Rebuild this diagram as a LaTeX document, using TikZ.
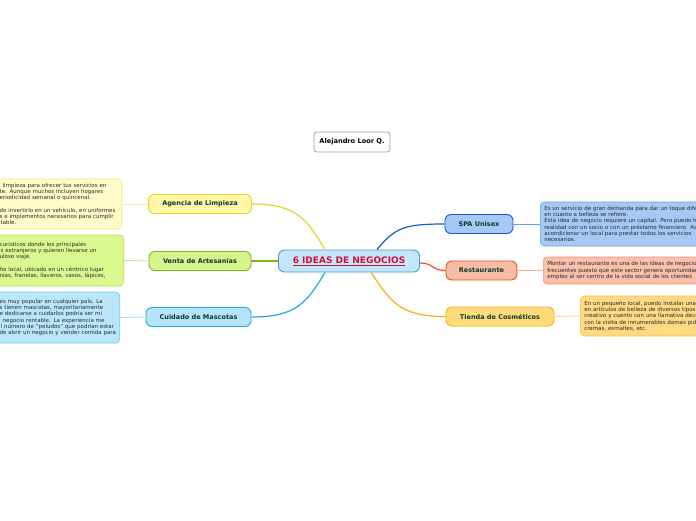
\documentclass[tikz,border=0pt]{standalone}
\usepackage{fontspec}
\setmainfont{DejaVu Sans}
\usepackage{xcolor}
\usepackage{tikz}
\usetikzlibrary{calc}
\definecolor{IdeaText}{HTML}{0F3A2C}
\definecolor{NoteText}{HTML}{2A2A2A}
\definecolor{TitleRed}{HTML}{D0103C}
\definecolor{MainFill}{HTML}{C3E6F8}
\definecolor{MainLine}{HTML}{4A9AD4}
\definecolor{LimpFill}{HTML}{FFF6A6}
\definecolor{LimpLine}{HTML}{EAD12A}
\definecolor{LimpSoft}{HTML}{FFFBC9}
\definecolor{LimpSoftLine}{HTML}{F3E57A}
\definecolor{ArteFill}{HTML}{D5F58A}
\definecolor{ArteLine}{HTML}{7FB21F}
\definecolor{ArteSoft}{HTML}{D9F98F}
\definecolor{ArteSoftLine}{HTML}{B5E05A}
\definecolor{MascFill}{HTML}{B4E4F9}
\definecolor{MascLine}{HTML}{22A8E2}
\definecolor{MascSoft}{HTML}{B9E6FB}
\definecolor{MascSoftLine}{HTML}{6CC8F0}
\definecolor{SpaFill}{HTML}{A6C8F5}
\definecolor{SpaLine}{HTML}{1758D3}
\definecolor{SpaSoft}{HTML}{A5C8F5}
\definecolor{SpaSoftLine}{HTML}{6A9FE8}
\definecolor{RestFill}{HTML}{F8BBA6}
\definecolor{RestLine}{HTML}{F04C1C}
\definecolor{RestSoft}{HTML}{F9C0AC}
\definecolor{RestSoftLine}{HTML}{F29272}
\definecolor{CosmFill}{HTML}{FFDB7C}
\definecolor{CosmLine}{HTML}{F5B112}
\definecolor{CosmSoft}{HTML}{FFDA82}
\definecolor{CosmSoftLine}{HTML}{F5C247}
\begin{document}
\begin{tikzpicture}[x=1pt,y=-1pt,
  idea/.style={draw,line width=0.9pt,rounded corners=6pt,minimum height=19pt,
               font=\fontsize{6.5}{7}\selectfont\bfseries,text=IdeaText},
  nota/.style={draw,line width=0.6pt,rounded corners=4pt,align=left,inner ysep=3pt,inner xsep=4pt,
               font=\fontsize{5.5}{6.3}\selectfont,text=NoteText},
  rama/.style={line width=1.2pt},
  enlace/.style={line width=0.9pt}]
\useasboundingbox (0,0) rectangle (696,520);
\clip (0,0) rectangle (696,520);
\fill[white] (0,0) rectangle (696,520);

\node[draw=black!40,line width=0.7pt,rounded corners=3pt,fill=white,minimum width=76pt,
      minimum height=20pt,font=\fontsize{6.6}{7}\selectfont\bfseries] (author) at (352,142)
{Alejandro Loor Q.};

\node[idea,fill=MainFill,draw=MainLine,minimum width=141pt,minimum height=22pt,
      text=TitleRed,font=\fontsize{9}{10}\selectfont\bfseries] (main) at (349,261)
{\underline{6 IDEAS DE NEGOCIOS}};

% ramas izquierda
\node[idea,fill=LimpFill,draw=LimpLine,minimum width=103pt] (limpieza) at (200,204) {Agencia de Limpieza};
\node[idea,fill=ArteFill,draw=ArteLine,minimum width=102pt] (artesania) at (200,261) {Venta de Artesanías};
\node[idea,fill=MascFill,draw=MascLine,minimum width=105pt] (mascotas) at (198.5,317) {Cuidado de Mascotas};
% ramas derecha
\node[idea,fill=SpaFill,draw=SpaLine,minimum width=68pt] (spa) at (479,224) {SPA Unisex};
\node[idea,fill=RestFill,draw=RestLine,minimum width=71pt] (rest) at (481.5,270.5) {Restaurante};
\node[idea,fill=CosmFill,draw=CosmLine,minimum width=108pt] (cosm) at (500,316.5) {Tienda de Cosméticos};

% notas
\node[nota,fill=LimpSoft,draw=LimpSoftLine,text width=118pt,minimum height=50pt,anchor=east]
  (limpiezanota) at (122,204)
{\hspace*{3pt}limpieza para ofrecer tus servicios en\\
te. Aunque muchos incluyen hogares\\
eriodicidad semanal o quincenal.\\[6.3pt]
do invertirlo en un vehículo, en uniformes\\
s e implementos necesarios para cumplir\\
\hspace*{1pt}table.};
\node[nota,fill=ArteSoft,draw=ArteSoftLine,text width=120pt,minimum height=51pt,anchor=east]
  (artesanianota) at (124,260.5)
{curísticos donde los principales\\
\hspace*{1pt}s extranjeros y quieren llevarse un\\
uloso viaje.\\[6.3pt]
ño local, ubicado en un céntrico lugar\\
nías, franelas, llaveros, vasos, lápices,\\[4pt]};
\node[nota,fill=MascSoft,draw=MascSoftLine,text width=116pt,minimum height=51pt,anchor=east]
  (mascotasnota) at (120,317.5)
{es muy popular en cualquier país. La\\
s tienen mascotas, mayoritariamente\\
e dedicarse a cuidarlos podría ser mi\\
\hspace*{3pt}negocio rentable. La experiencia me\\
\hspace*{1pt}l número de "peludos" que podrían estar\\
\mbox{de abrir un negocio y vender comida para}\\[4pt]};
\node[nota,fill=SpaSoft,draw=SpaSoftLine,text width=185pt,minimum height=44pt,anchor=west]
  (spanota) at (540,224)
{Es un servicio de gran demanda para dar un toque dife\\
en cuanto a belleza se refiere.\\
Esta idea de negocio requiere un capital. Pero puedo h\\
realidad con un socio o con un préstamo financiero. As\\
acondicionar un local para prestar todos los servicios\\
necesarios.};
\node[nota,fill=RestSoft,draw=RestSoftLine,text width=185pt,minimum height=27pt,anchor=west]
  (restnota) at (543,270.5)
{Montar un restaurante es una de las ideas de negocio\\
frecuentes puesto que este sector genera oportunidad\\
empleo al ser centro de la vida social de los clientes};
\node[nota,fill=CosmSoft,draw=CosmSoftLine,text width=150pt,minimum height=40pt,anchor=west]
  (cosmnota) at (580,316)
{En un pequeño local, puedo instalar una\\
en artículos de belleza de diversos tipos\\
creativo y cuento con una llamativa deco\\
con la visita de innumerables damas pid\\
cremas, esmaltes, etc.};

% conexiones
\draw[rama,LimpLine] ($(main.north)+(-24,0)$) .. controls +(-18,-30) and +(45,0) .. (limpieza.east);
\draw[rama,ArteLine] (main.west) -- (artesania.east);
\draw[rama,MascLine] ($(main.south)+(-24,0)$) .. controls +(-18,30) and +(45,0) .. (mascotas.east);
\draw[rama,SpaLine] ($(main.north)+(28,0)$) .. controls +(18,-22) and +(-40,0) .. (spa.west);
\draw[rama,RestLine] ($(main.east)+(0,2)$) .. controls +(14,0) and +(-14,0) .. (rest.west);
\draw[rama,CosmLine] ($(main.south)+(22,0)$) .. controls +(20,30) and +(-45,0) .. (cosm.west);

\draw[enlace,LimpSoftLine!70] (limpieza.west) -- (limpiezanota.east);
\draw[enlace,ArteSoftLine!70] (artesania.west) -- (artesanianota.east);
\draw[enlace,MascSoftLine!60] (mascotas.west) -- (mascotasnota.east);
\draw[enlace,SpaSoftLine] (spa.east) -- (spanota.west);
\draw[enlace,RestSoftLine!70] (rest.east) -- (restnota.west);
\draw[enlace,CosmSoftLine!60] (cosm.east) -- (cosmnota.west);
\end{tikzpicture}
\end{document}
